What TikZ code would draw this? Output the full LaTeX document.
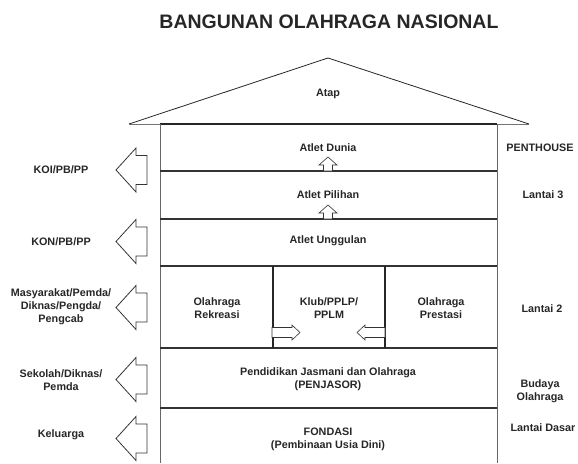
\documentclass[tikz,border=0pt]{standalone}
\usepackage{fontspec}
\setmainfont{Liberation Sans}
\begin{document}
\begin{tikzpicture}[x=1pt,y=-1pt,
  lbl/.style={font=\fontsize{10.8}{13.2}\selectfont\bfseries, align=center, inner sep=0pt, text=black!85},
  floor/.style={line width=1.1pt, draw=black!80},
  wall/.style={line width=0.7pt, draw=black!60},
  inner/.style={line width=1.3pt, draw=black!85},
  roofline/.style={line width=0.8pt, draw=black!85},
  blk/.style={line width=0.8pt, draw=black!80, fill=white, line join=miter},
  leftarrow/.pic={\draw[blk] (0,0) -- (20,-22) -- (20,-14.5) -- (31,-14.5) -- (31,14.5) -- (20,14.5) -- (20,22) -- cycle;},
  uparrow/.pic={\draw[blk, line width=0.6pt] (0,0) -- (9,8) -- (4.5,8) -- (4.5,14) -- (-4.5,14) -- (-4.5,8) -- (-9,8) -- cycle;},
  rarrow/.pic={\draw[blk, line width=0.6pt] (0,0) -- (-8,-7.5) -- (-8,-5) -- (-28,-5) -- (-28,5) -- (-8,5) -- (-8,7.5) -- cycle;},
  larrow/.pic={\draw[blk, line width=0.6pt] (0,0) -- (8,-7.5) -- (8,-5) -- (28,-5) -- (28,5) -- (8,5) -- (8,7.5) -- cycle;}
]
\useasboundingbox (0,0) rectangle (578,463);
% coordinates
\coordinate (apex) at (328,58);
\coordinate (rl) at (129,124);
\coordinate (rr) at (529,124);
\coordinate (wl) at (160,124);
\coordinate (wr) at (497,124);
\coordinate (wlb) at (160,463);
\coordinate (wrb) at (497,463);
% title
\node[font=\fontsize{19.5}{22}\selectfont\bfseries, text=black!85, inner sep=0pt] (title) at (329,22) {BANGUNAN OLAHRAGA NASIONAL};
% roof
\draw[roofline] (rl) -- (apex) -- (rr);
\draw[line width=1pt, draw=black!55] (rl) -- (wl);
\draw[line width=1pt, draw=black!55] (wr) -- (rr);
\draw[line width=1.5pt, draw=black!85] (wl) -- (wr);
% walls
\draw[wall] (wl) -- (wlb);
\draw[wall] (wr) -- (wrb);
% floors
\foreach \yy/\nm in {171/f1,219/f2,266/f3,348/f4,408/f5}{
  \coordinate (\nm l) at (160,\yy);
  \coordinate (\nm r) at (497,\yy);
  \draw[floor] (\nm l) -- (\nm r);
}
% inner walls
\coordinate (iw1t) at (273,266); \coordinate (iw1b) at (273,348);
\coordinate (iw2t) at (385,266); \coordinate (iw2b) at (385,348);
\draw[inner] (iw1t) -- (iw1b);
\draw[inner] (iw2t) -- (iw2b);
% small arrows
\pic at (328,157) {uparrow};
\pic at (328,205) {uparrow};
\pic at (300,332.5) {rarrow};
\pic at (357,332.5) {larrow};
% big left arrows
\pic at (116,170) {leftarrow};
\pic at (116,241.5) {leftarrow};
\pic at (116,307.5) {leftarrow};
\pic at (116,379.5) {leftarrow};
\pic at (116,438.5) {leftarrow};
% center texts
\node[lbl] (atap) at (328,94) {Atap};
\node[lbl] (dunia) at (328,148) {Atlet Dunia};
\node[lbl] (pilihan) at (328,195) {Atlet Pilihan};
\node[lbl] (unggulan) at (328,241) {Atlet Unggulan};
\node[lbl] (rekreasi) at (217,308) {Olahraga\\Rekreasi};
\node[lbl] (klub) at (329,308) {Klub/PPLP/\\PPLM};
\node[lbl] (prestasi) at (441,308) {Olahraga\\Prestasi};
\node[lbl] (penjasor) at (328,379) {Pendidikan Jasmani dan Olahraga\\(PENJASOR)};
\node[lbl] (fondasi) at (328,439) {FONDASI\\(Pembinaan Usia Dini)};
% left labels
\node[lbl] (koi) at (61,170) {KOI/PB/PP};
\node[lbl] (kon) at (61,241.5) {KON/PB/PP};
\node[lbl] (masy) at (61,307) {Masyarakat/Pemda/\\Diknas/Pengda/\\Pengcab};
\node[lbl] (sekolah) at (61,380) {Sekolah/Diknas/\\Pemda};
\node[lbl] (keluarga) at (61,435) {Keluarga};
% right labels
\node[lbl] (pent) at (540,148) {PENTHOUSE};
\node[lbl] (l3) at (543,195) {Lantai 3};
\node[lbl] (l2) at (542,309) {Lantai 2};
\node[lbl] (budaya) at (540,391) {Budaya\\Olahraga};
\node[lbl] (ldasar) at (543,428) {Lantai Dasar};
\end{tikzpicture}
\end{document}
